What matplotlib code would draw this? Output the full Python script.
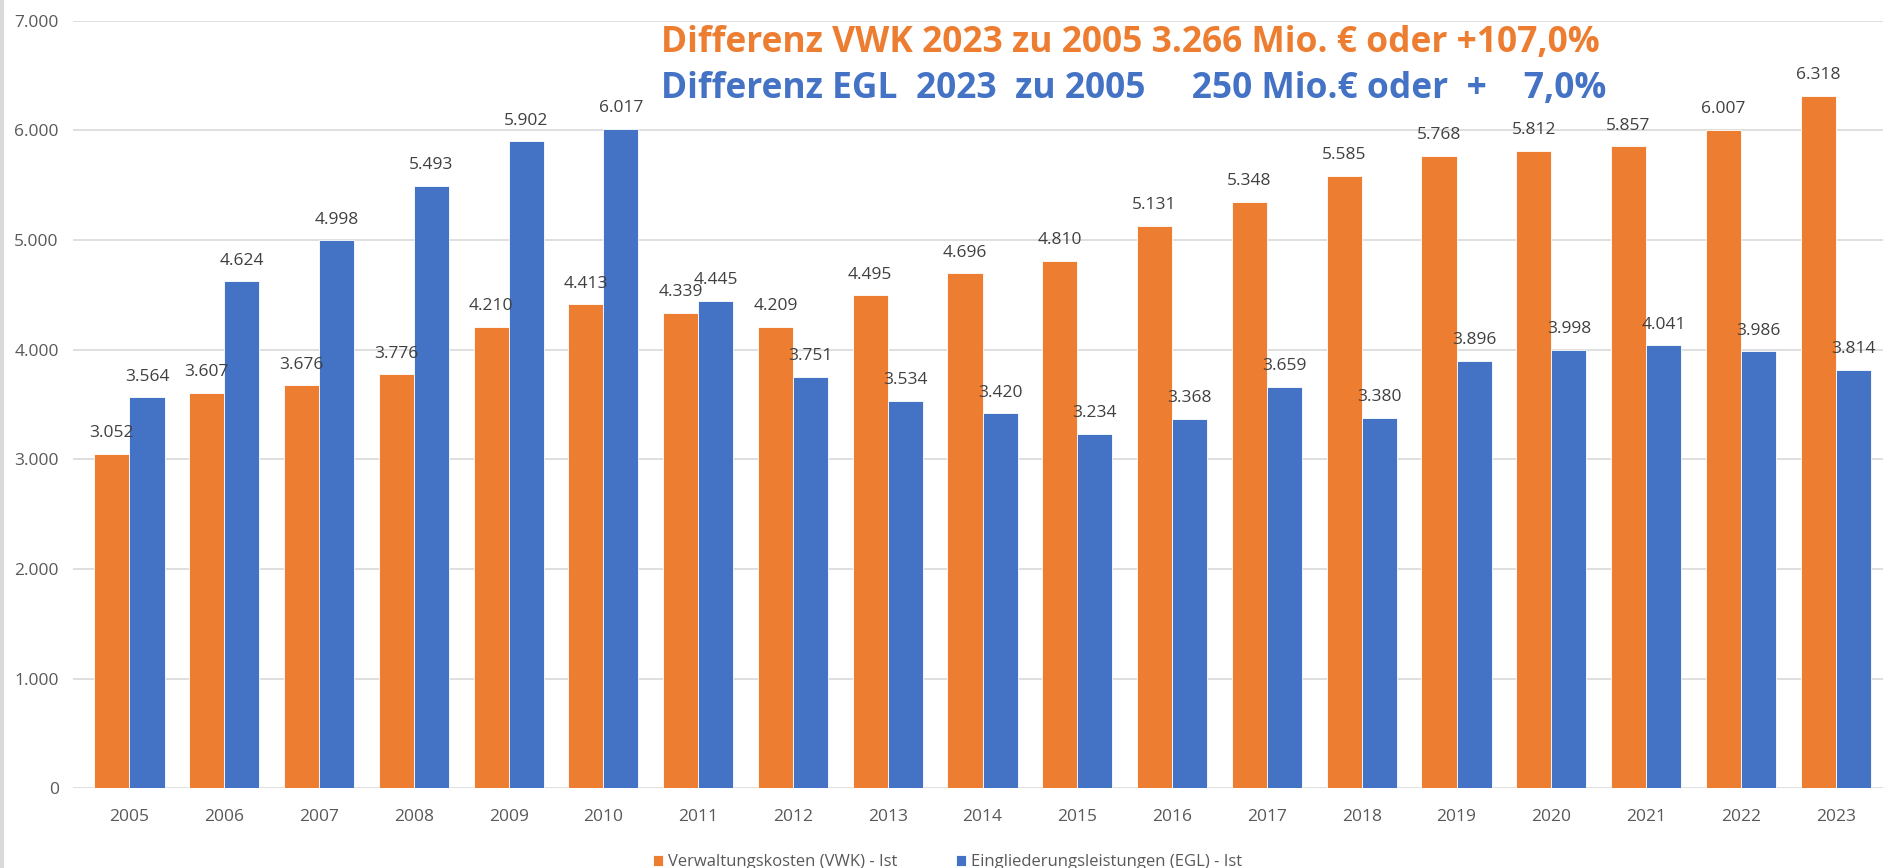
import matplotlib.pyplot as plt
import numpy as np

jahre = [str(j) for j in range(2005, 2024)]
vwk = [3052, 3607, 3676, 3776, 4210, 4413, 4339, 4209, 4495, 4696,
       4810, 5131, 5348, 5585, 5768, 5812, 5857, 6007, 6318]
egl = [3564, 4624, 4998, 5493, 5902, 6017, 4445, 3751, 3534, 3420,
       3234, 3368, 3659, 3380, 3896, 3998, 4041, 3986, 3814]
y_ticks = [0, 1000, 2000, 3000, 4000, 5000, 6000, 7000]

titel_vwk = 'Differenz VWK 2023 zu 2005 3.266 Mio. € oder +107,0%'
titel_egl = 'Differenz EGL  2023  zu 2005     250 Mio.€ oder  +    7,0%'

orange = '#ED7D31'
blau = '#4472C4'
grau = '#595959'

plt.rcParams['font.family'] = ['Open Sans', 'DejaVu Sans']


def fmt(v):
    return f'{v:,}'.replace(',', '.')


fig = plt.figure(figsize=(18.95, 8.68), dpi=100)
ax = fig.add_axes([0.0383, 0.092, 0.9554, 0.884])

x = np.arange(len(jahre))
b = 0.37
ax.bar(x - b / 2, vwk, width=b, color=orange, edgecolor='white', linewidth=0.6,
       label='Verwaltungskosten (VWK) - Ist', zorder=3)
ax.bar(x + b / 2, egl, width=b, color=blau, edgecolor='white', linewidth=0.6,
       label='Eingliederungsleistungen (EGL) - Ist', zorder=3)

for i in range(len(jahre)):
    ax.text(x[i] - b / 2, vwk[i] + 115, fmt(vwk[i]), ha='center', va='bottom',
            fontsize=12.5, color='#404040', zorder=4)
    ax.text(x[i] + b / 2, egl[i] + 115, fmt(egl[i]), ha='center', va='bottom',
            fontsize=12.5, color='#404040', zorder=4)

ax.set_xlim(-0.6, len(jahre) - 0.5)
ax.set_ylim(0, 7000)
ax.set_yticks(y_ticks)
ax.set_yticklabels([fmt(t) for t in y_ticks])
ax.set_xticks(x)
ax.set_xticklabels(jahre)
ax.tick_params(axis='both', length=0, labelsize=12.5, labelcolor=grau)
ax.tick_params(axis='y', pad=10)
ax.tick_params(axis='x', pad=15)
ax.grid(axis='y', color='#D9D9D9', linewidth=1.2, zorder=0)
for s in ax.spines.values():
    s.set_visible(False)

fig.text(0.349, 0.950, titel_vwk, color=orange, fontsize=25.5, fontweight='bold',
         ha='left', va='center', family=['Open Sans', 'DejaVu Sans'])
fig.text(0.349, 0.897, titel_egl, color=blau, fontsize=25.5, fontweight='bold',
         ha='left', va='center', family=['Open Sans', 'DejaVu Sans'])

leg = fig.legend(loc='lower center', bbox_to_anchor=(0.5, -0.02), ncol=2, frameon=False,
                 fontsize=12, handlelength=0.6, handleheight=0.6, columnspacing=3.5,
                 handletextpad=0.3)
for t in leg.get_texts():
    t.set_color(grau)

fig.add_artist(plt.Line2D([0.001, 0.001], [0, 1], color='#D9D9D9', linewidth=3,
                          transform=fig.transFigure))

fig.savefig('out.png', dpi=100)
